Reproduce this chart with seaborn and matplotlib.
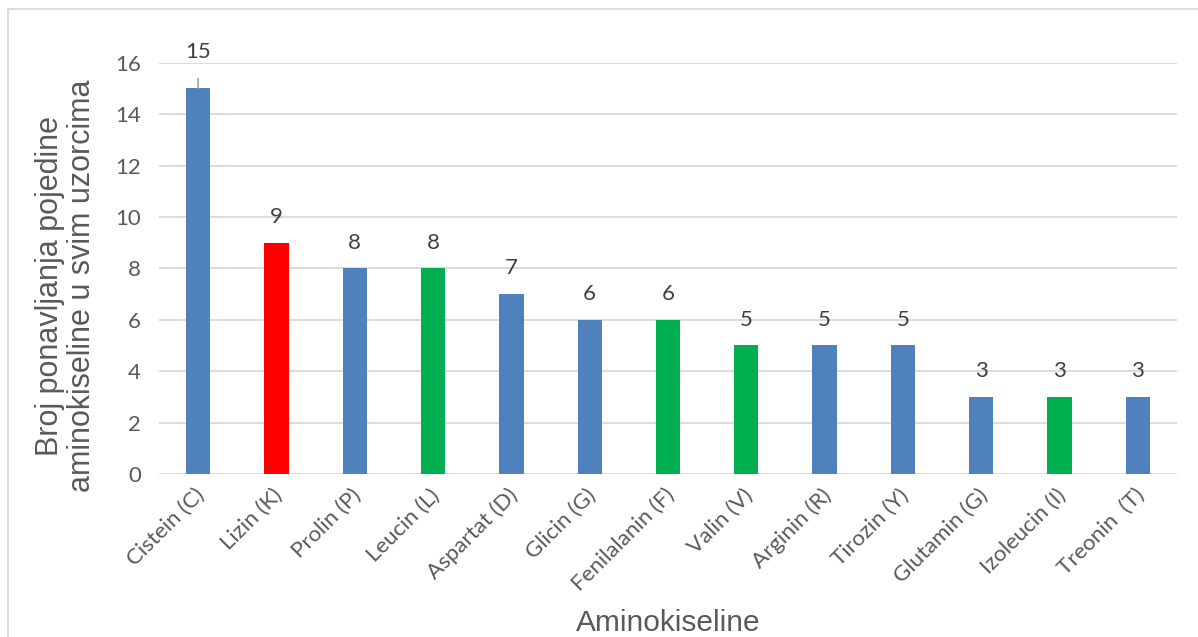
import matplotlib
matplotlib.use("Agg")
import matplotlib.pyplot as plt
import matplotlib.transforms as mtransforms
import seaborn as sns
import pandas as pd
from matplotlib.lines import Line2D

categories = ["Cistein (C)", "Lizin (K)", "Prolin (P)", "Leucin (L)", "Aspartat (D)",
              "Glicin (G)", "Fenilalanin (F)", "Valin (V)", "Arginin (R)", "Tirozin (Y)",
              "Glutamin (G)", "Izoleucin (I)", "Treonin  (T)"]
counts = [15, 9, 8, 8, 7, 6, 6, 5, 5, 5, 3, 3, 3]
groups = ["blue", "red", "blue", "green", "blue", "blue", "green", "green",
          "blue", "blue", "blue", "green", "blue"]
group_colors = {"blue": "#4F81BD", "red": "#FF0000", "green": "#00B050"}
y_ticks = [0, 2, 4, 6, 8, 10, 12, 14, 16]

sns.set_theme(style="white")
plt.rcParams["font.family"] = ["Lato", "DejaVu Sans"]

df = pd.DataFrame({"Aminokiselina": categories, "Broj": counts, "Skupina": groups})

fig = plt.figure(figsize=(11.98, 6.37), dpi=100)
ax = fig.add_axes([0.1327, 0.2559, 0.8498, 0.6457])

sns.barplot(data=df, x="Aminokiselina", y="Broj", hue="Skupina",
            palette=group_colors, saturation=1, dodge=False, width=0.31,
            legend=False, ax=ax, zorder=3, edgecolor="none")

ax.set_ylim(0, 16)
ax.set_xlim(-0.5, len(categories) - 0.5)
ax.set_yticks(y_ticks)
ax.set_yticklabels([str(t) for t in y_ticks])
for t in y_ticks:
    ax.axhline(t, color="#D9D9D9", lw=1.3, zorder=1)
for s in ax.spines.values():
    s.set_visible(False)
ax.tick_params(axis="both", length=0, labelsize=16, colors="#595959")
ax.tick_params(axis="y", pad=13)
ax.set_xticks(range(len(categories)))
ax.set_xticklabels(categories, rotation=45, ha="right", rotation_mode="anchor")
ax.tick_params(axis="x", pad=8)
shift = mtransforms.ScaledTranslation(-4 / 100, 0, fig.dpi_scale_trans)
for lbl in ax.get_xticklabels():
    lbl.set_transform(lbl.get_transform() + shift)

# value labels above bars
for i, v in enumerate(counts):
    if i == 0:
        ax.annotate(str(v), xy=(i, v), xytext=(0, 26.5), textcoords="offset points",
                    ha="center", va="center", fontsize=16, color="#404040",
                    annotation_clip=False,
                    arrowprops=dict(arrowstyle="-", color="#A6A6A6", lw=1.3,
                                    shrinkA=10, shrinkB=0))
    else:
        ax.annotate(str(v), xy=(i, v), xytext=(0, 18.5), textcoords="offset points",
                    ha="center", va="center", fontsize=16, color="#404040")

ax.set_xlabel("")
ax.set_ylabel("")
fig.text(66 / 1198, 1 - 286 / 637,
         "Broj ponavljanja pojedine\naminokiseline u svim uzorcima",
         rotation=90, ha="center", va="center", fontsize=22, color="#595959",
         family=["Liberation Sans", "DejaVu Sans"], linespacing=1.12)
fig.text(668 / 1198, 1 - 623 / 637, "Aminokiseline", ha="center", va="center",
         fontsize=21.5, color="#595959", family=["Liberation Sans", "DejaVu Sans"])

# chart frame
fig.add_artist(Line2D([8 / 1198, 8 / 1198], [0, 1 - 9 / 637], transform=fig.transFigure,
                      color="#D9D9D9", lw=1.3))
fig.add_artist(Line2D([8 / 1198, 1.0], [1 - 9 / 637, 1 - 9 / 637], transform=fig.transFigure,
                      color="#D9D9D9", lw=1.3))

fig.savefig("out.png", dpi=100, facecolor="white")
